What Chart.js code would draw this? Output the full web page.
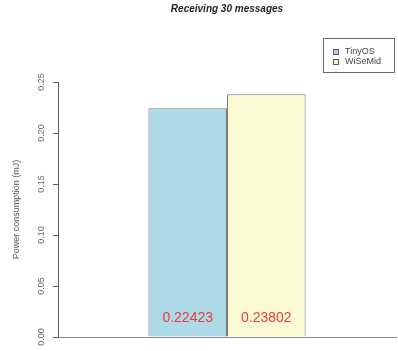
<!DOCTYPE html>
<html>
<head>
<meta charset="utf-8">
<script src="https://cdn.jsdelivr.net/npm/chart.js@4/dist/chart.umd.min.js"></script>
<style>
  html, body { margin: 0; padding: 0; background: #fff; }
  #wrap { width: 398px; height: 351px; }
</style>
</head>
<body>
<div id="wrap"><canvas id="powerChart" width="398" height="351"></canvas></div>
<script>
// Energy spent receiving 30 messages, per middleware
const systems = ['TinyOS', 'WiSeMid'];
const powerMJ = [0.22423, 0.23802];
const barColors = ['#ADD8E6', '#F9F9D3'];
const yTicks = [0, 0.05, 0.10, 0.15, 0.20, 0.25];

const chartTitle = 'Receiving 30 messages';
const yTitle = 'Power consumption (mJ)';

const AXIS_COLOR = '#5a5a5a';
const FONT = '"Liberation Sans", Arial, Helvetica, sans-serif';

// title centred over the plot region, like R's main=
const titlePlugin = {
    id: 'plotTitle',
    afterDraw(chart) {
        const { ctx, chartArea } = chart;
        ctx.save();
        ctx.font = 'italic bold 10px ' + FONT;
        ctx.fillStyle = '#1e1e1e';
        ctx.textAlign = 'center';
        ctx.textBaseline = 'middle';
        ctx.fillText(chartTitle, (chartArea.left + chartArea.right) / 2, 9);
        ctx.restore();
    }
};

// boxed legend in the top right corner
const legendBoxPlugin = {
    id: 'legendBox',
    afterDraw(chart) {
        const { ctx, chartArea } = chart;
        const right = chartArea.right - 2;
        const w = 71, h = 34;
        const x = right - w, y = 38;
        ctx.save();
        ctx.strokeStyle = '#6a6a6a';
        ctx.lineWidth = 1;
        ctx.strokeRect(x + 0.5, y + 0.5, w, h);
        ctx.font = '9px ' + FONT;
        ctx.textBaseline = 'middle';
        chart.data.datasets.forEach((ds, i) => {
            const cy = y + 14 + i * 10;
            ctx.fillStyle = ds.backgroundColor;
            ctx.fillRect(x + 10.5, cy - 2.5, 5, 5);
            ctx.strokeStyle = '#555';
            ctx.strokeRect(x + 10.5, cy - 2.5, 5, 5);
            ctx.fillStyle = '#444';
            ctx.fillText(ds.label, x + 22, cy);
        });
        ctx.restore();
    }
};

// red value labels near the bottom of each bar
const valueLabelPlugin = {
    id: 'valueLabels',
    afterDatasetsDraw(chart) {
        const { ctx } = chart;
        const base = chart.scales.y.getPixelForValue(0);
        ctx.save();
        ctx.font = '14px ' + FONT;
        ctx.fillStyle = '#EE3B3B';
        ctx.textAlign = 'center';
        ctx.textBaseline = 'middle';
        chart.data.datasets.forEach((ds, i) => {
            const bar = chart.getDatasetMeta(i).data[0];
            ctx.fillText(String(ds.data[0]), bar.x, base - 19);
        });
        ctx.restore();
    }
};

new Chart(document.getElementById('powerChart'), {
    type: 'bar',
    data: {
        labels: [''],
        datasets: systems.map((name, i) => ({
            label: name,
            data: [powerMJ[i]],
            backgroundColor: barColors[i],
            borderColor: '#7a7a7a',
            borderWidth: 1,
            borderSkipped: 'bottom',
            categoryPercentage: 0.465,
            barPercentage: 1
        }))
    },
    options: {
        responsive: false,
        animation: false,
        layout: { padding: { top: 82, right: 2, bottom: 0, left: 0 } },
        plugins: {
            legend: { display: false },
            title: { display: false },
            tooltip: { enabled: false }
        },
        scales: {
            x: {
                ticks: { display: false },
                grid: { display: false },
                border: { display: true, color: '#8a8a8a', width: 1 },
                afterFit(scale) { scale.height = 14; }
            },
            y: {
                min: 0,
                max: 0.25,
                afterBuildTicks(scale) {
                    scale.ticks = yTicks.map(v => ({ value: v }));
                },
                ticks: {
                    callback: v => v.toFixed(2),
                    minRotation: 90,
                    maxRotation: 90,
                    crossAlign: 'center',
                    padding: 3,
                    color: '#666',
                    font: { family: FONT, size: 9 }
                },
                grid: {
                    drawOnChartArea: false,
                    drawTicks: true,
                    tickLength: 5,
                    color: AXIS_COLOR
                },
                border: { display: true, color: AXIS_COLOR, width: 1 },
                title: {
                    display: true,
                    text: yTitle,
                    color: '#555',
                    font: { family: FONT, size: 9 },
                    padding: { top: 11, bottom: 0 }
                },
                afterFit(scale) { scale.width = 58; }
            }
        }
    },
    plugins: [titlePlugin, legendBoxPlugin, valueLabelPlugin]
});
</script>
</body>
</html>
